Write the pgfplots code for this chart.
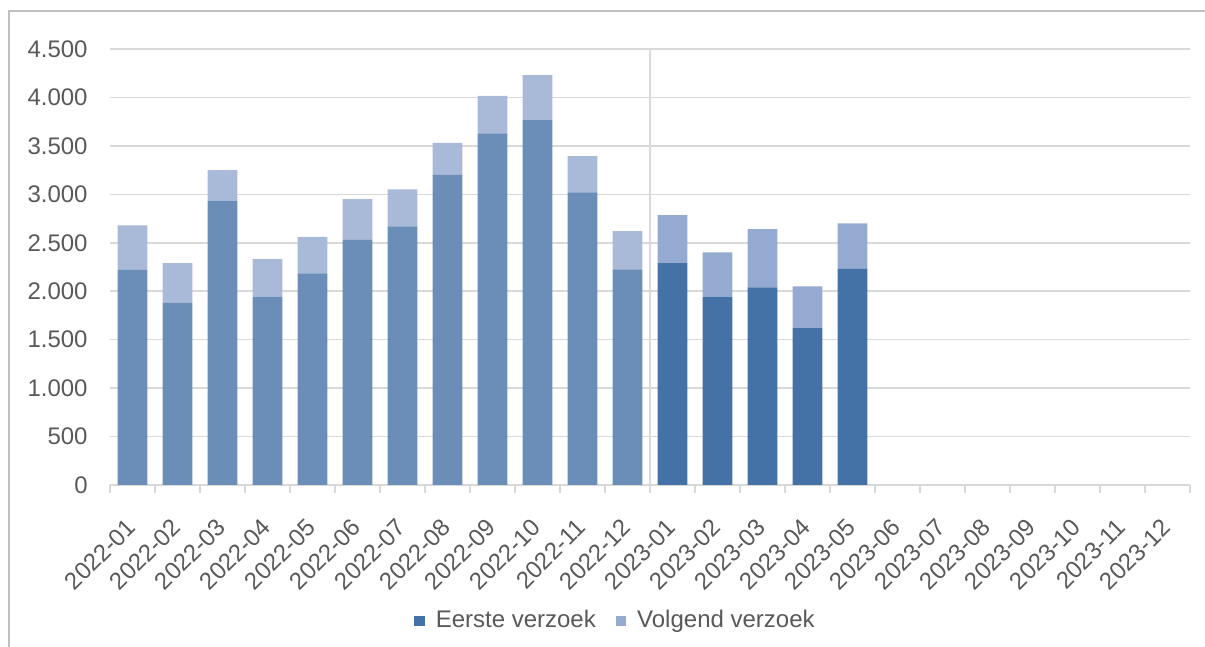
\documentclass[border=0pt]{standalone}
\usepackage{pgfplots}
\pgfplotsset{compat=1.18}
\usepackage{pgfplotstable}
\usepackage{fontspec}
\setmainfont{Liberation Sans}

\definecolor{eersteB}{HTML}{4472A7}
\definecolor{eersteA}{HTML}{6A8EB8}
\definecolor{volgendB}{HTML}{95AAD0}
\definecolor{volgendA}{HTML}{A9B9D8}
\definecolor{gridc}{HTML}{D9D9D9}
\definecolor{framec}{HTML}{BFBFBF}
\definecolor{textc}{HTML}{595959}

% month, first request (2022 / 2023), next request (2022 / 2023)
\pgfplotstableread{
x  e22  e23  v22  v23
0  2220 0    460  0
1  1880 0    410  0
2  2930 0    320  0
3  1940 0    390  0
4  2185 0    375  0
5  2530 0    420  0
6  2670 0    380  0
7  3200 0    330  0
8  3630 0    385  0
9  3765 0    465  0
10 3020 0    375  0
11 2225 0    395  0
12 0    2290 0    495
13 0    1940 0    460
14 0    2040 0    600
15 0    1620 0    430
16 0    2230 0    470
}\data

\begin{document}
\fontsize{12}{14}\selectfont
\begin{tikzpicture}[x=1pt,y=1pt]
\useasboundingbox (-55,-81) rectangle (547.5,242.5);
\draw[framec, line width=0.75pt] (-50.5,-81) -- (-50.5,237) -- (547.5,237);
\begin{axis}[
  scale only axis,
  width=540pt, height=218pt,
  ybar stacked,
  bar width=14.8pt,
  xmin=-0.5, xmax=23.5,
  ymin=0, ymax=4500,
  ytick={0,500,...,4500},
  scaled y ticks=false,
  /pgf/number format/1000 sep={.},
  /pgf/number format/assume math mode=true,
  xtick={0,...,23},
  xticklabels={2022-01,2022-02,2022-03,2022-04,2022-05,2022-06,2022-07,2022-08,2022-09,2022-10,2022-11,2022-12,
               2023-01,2023-02,2023-03,2023-04,2023-05,2023-06,2023-07,2023-08,2023-09,2023-10,2023-11,2023-12},
  minor xtick={-0.5,0.5,...,23.5},
  major tick length=0pt,
  minor tick length=3.8pt,
  tick align=outside,
  axis x line*=bottom,
  axis y line*=left,
  y axis line style={draw=none},
  x axis line style={gridc, line width=0.75pt},
  every tick/.style={gridc, line width=0.75pt},
  minor tick style={gridc, line width=0.75pt},
  ymajorgrids,
  major grid style={gridc, line width=0.75pt},
  ticklabel style={font=\fontsize{12}{14}\selectfont, text=textc, inner sep=0pt},
  yticklabel style={xshift=-11pt},
  xticklabel style={xshift=-0.5pt, yshift=-19pt, rotate=45, anchor=east},
  legend style={at={(0.469,-0.312)}, anchor=center, draw=none,
    font=\fontsize{12}{14}\selectfont, text=textc,
    /tikz/every odd column/.append style={column sep=3.5pt},
    /tikz/every even column/.append style={column sep=8pt}},
  legend columns=2,
  legend image code/.code={\fill[#1] (0pt,-2.6pt) rectangle (5.2pt,2.6pt);},
]
\addplot[fill=eersteA, draw=none, forget plot] table[x=x, y=e22] {\data};
\addplot[fill=eersteB, draw=none] table[x=x, y=e23] {\data};
\addplot[fill=volgendA, draw=none, forget plot] table[x=x, y=v22] {\data};
\addplot[fill=volgendB, draw=none] table[x=x, y=v23] {\data};
\legend{Eerste verzoek, Volgend verzoek}
\draw[gridc, line width=0.75pt] (axis cs:11.5,0) -- (axis cs:11.5,4500);
\end{axis}
\end{tikzpicture}
\end{document}
